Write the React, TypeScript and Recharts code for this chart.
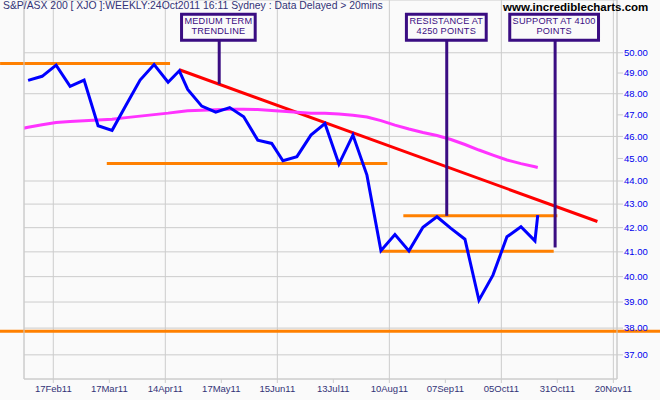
import React from "react";
import {
  LineChart,
  Line,
  XAxis,
  YAxis,
  CartesianGrid,
  ReferenceLine,
  ReferenceArea,
} from "recharts";

const FONT = '"Liberation Sans", Arial, sans-serif';
const PURPLE = "#3a0d82";
const ORANGE = "#ff8000";
const GRID = "#cccccc";

// weekly closes (index / 100)
const WEEKS = [
  "2011-02-04", "2011-02-11", "2011-02-18", "2011-02-25", "2011-03-04", "2011-03-11",
  "2011-03-18", "2011-03-25", "2011-04-01", "2011-04-08", "2011-04-15", "2011-04-21",
  "2011-04-29", "2011-05-06", "2011-05-13", "2011-05-20", "2011-05-27", "2011-06-03",
  "2011-06-10", "2011-06-17", "2011-06-24", "2011-07-01", "2011-07-08", "2011-07-15",
  "2011-07-22", "2011-07-29", "2011-08-05", "2011-08-12", "2011-08-19", "2011-08-26",
  "2011-09-02", "2011-09-09", "2011-09-16", "2011-09-23", "2011-09-30", "2011-10-07",
  "2011-10-14", "2011-10-21", "2011-10-24",
];
const XJO = [
  48.64, 48.84, 49.39, 48.35, 48.66, 46.49, 46.28, 47.46, 48.66, 49.42, 48.55, 49.11,
  48.21, 47.41, 47.13, 47.34, 46.91, 45.83, 45.68, 44.9, 45.08, 46.06, 46.59, 44.75,
  46.06, 44.26, 41.05, 41.71, 41.04, 42.02, 42.46, 41.97, 41.52, 39.07, 40.06, 41.62,
  42.04, 41.45, 42.53,
];
// moving average starts one week earlier
const MA_WEEKS = ["2011-01-28", ...WEEKS];
const MA = [
  46.29, 46.42, 46.54, 46.64, 46.69, 46.72, 46.76, 46.79, 46.87, 46.94, 47.01, 47.08,
  47.15, 47.19, 47.22, 47.24, 47.26, 47.26, 47.25, 47.2, 47.17, 47.12, 47.08, 47.07,
  47.04, 46.98, 46.9, 46.73, 46.52, 46.34, 46.18, 46.04, 45.86, 45.63, 45.38, 45.15,
  44.93, 44.77, 44.63, 44.6,
];

const TICK_DAYS = [0, 20, 40, 60, 80, 100, 120, 140, 160, 180, 200];
const TICK_LABELS = [
  "17Feb11", "17Mar11", "14Apr11", "17May11", "15Jun11", "13Jul11",
  "10Aug11", "07Sep11", "05Oct11", "31Oct11", "20Nov11",
];
const Y_TICKS = [37, 38, 39, 40, 41, 42, 43, 44, 45, 46, 47, 48, 49, 50];

// horizontal support / resistance levels and their spans (trading days)
const LEVELS = [49.47, 44.78, 42.5, 41.03, 37.88];
const LEVEL_SPANS = [
  [-19, 41.7],
  [19.1, 119.3],
  [125, 180],
  [117, 178.7],
  [-19.5, 216.7],
];
const TREND = [
  { d: 45, v: 49.16 },
  { d: 194.3, v: 42.26 },
];

const CALLOUTS = [
  { lines: ["MEDIUM TERM", "TRENDLINE"], d1: 45.8, d2: 72.1, at: 59.25, to: 48.46 },
  { lines: ["RESISTANCE AT", "4250 POINTS"], d1: 126.1, d2: 154.6, at: 140.5, to: 42.5 },
  { lines: ["SUPPORT AT 4100", "POINTS"], d1: 163.0, d2: 194.7, at: 179.2, to: 41.18 },
];
const BOX_TOP = 51.96;
const BOX_BOTTOM = 50.63;

const HOLIDAYS = ["2011-04-22", "2011-04-25", "2011-04-26", "2011-06-13"];

// trading days counted from 17 Feb 2011
function tradingDay(iso: string) {
  const base = Date.UTC(2011, 1, 17);
  const [y, m, d] = iso.split("-").map(Number);
  const target = Date.UTC(y, m - 1, d);
  const step = target >= base ? 1 : -1;
  let n = 0;
  let cur = base;
  while (cur !== target) {
    cur += step * 86400000;
    const dt = new Date(cur);
    const wd = dt.getUTCDay();
    if (wd === 0 || wd === 6) continue;
    if (HOLIDAYS.includes(dt.toISOString().slice(0, 10))) continue;
    n += step;
  }
  return n;
}

const priceData = WEEKS.map((w, i) => ({ d: tradingDay(w), v: XJO[i] }));
const maData = MA_WEEKS.map((w, i) => ({ d: tradingDay(w), v: MA[i] }));

function BoxLabel(props: any) {
  const { viewBox, lines } = props;
  const cx = viewBox.x + viewBox.width / 2;
  const cy = viewBox.y + viewBox.height / 2;
  return (
    <text
      x={cx}
      y={cy - 3.5}
      textAnchor="middle"
      fill={PURPLE}
      fontSize={9.2}
      fontFamily={FONT}
      letterSpacing={0.2}
    >
      <tspan x={cx}>{lines[0]}</tspan>
      <tspan x={cx} dy={10.8}>
        {lines[1]}
      </tspan>
    </text>
  );
}

export default function App() {
  return (
    <div
      style={{
        position: "absolute",
        left: 0,
        top: 0,
        width: 660,
        height: 400,
        background: "#fafafa",
        fontFamily: FONT,
      }}
    >
      <LineChart
        width={660}
        height={400}
        margin={{ top: 0, right: 0, left: 0, bottom: 0 }}
      >
        <CartesianGrid stroke={GRID} />
        <XAxis
          dataKey="d"
          type="number"
          domain={[-10.46, 201.3]}
          allowDataOverflow
          ticks={TICK_DAYS}
          tickFormatter={(v: number) => TICK_LABELS[TICK_DAYS.indexOf(v)] ?? ""}
          height={21}
          tickSize={4}
          tickMargin={2}
          stroke={GRID}
          tick={{ fill: "#333377", fontSize: 9.5, fontFamily: FONT }}
        />
        <YAxis
          yAxisId="frame"
          orientation="left"
          width={24}
          tick={false}
          tickLine={false}
          stroke={GRID}
        />
        <YAxis
          orientation="right"
          scale="log"
          domain={[36.12, 52.7]}
          allowDataOverflow
          ticks={Y_TICKS}
          tickFormatter={(v: number) => v.toFixed(2)}
          width={43}
          tickSize={6}
          tickMargin={1}
          stroke={GRID}
          tick={{ fill: "#0000ee", fontSize: 9.5, fontFamily: FONT }}
        />
        {LEVELS.map((lv, i) => (
          <ReferenceLine
            key={"lv" + i}
            segment={[
              { x: LEVEL_SPANS[i][0], y: lv },
              { x: LEVEL_SPANS[i][1], y: lv },
            ]}
            stroke={ORANGE}
            strokeWidth={3}
            ifOverflow="visible"
          />
        ))}
        <ReferenceLine
          segment={[
            { x: TREND[0].d, y: TREND[0].v },
            { x: TREND[1].d, y: TREND[1].v },
          ]}
          stroke="#ff0000"
          strokeWidth={3}
          ifOverflow="visible"
        />
        <Line
          data={maData}
          dataKey="v"
          stroke="#ff33ff"
          strokeWidth={3}
          dot={false}
          isAnimationActive={false}
        />
        <Line
          data={priceData}
          dataKey="v"
          stroke="#0000ff"
          strokeWidth={3}
          dot={false}
          isAnimationActive={false}
        />
        {CALLOUTS.map((c, i) => (
          <ReferenceLine
            key={"cl" + i}
            segment={[
              { x: c.at, y: BOX_BOTTOM },
              { x: c.at, y: c.to },
            ]}
            stroke={PURPLE}
            strokeWidth={3}
            ifOverflow="visible"
          />
        ))}
        {CALLOUTS.map((c, i) => (
          <ReferenceArea
            key={"bx" + i}
            x1={c.d1}
            x2={c.d2}
            y1={BOX_BOTTOM}
            y2={BOX_TOP}
            fill="#fafafa"
            fillOpacity={1}
            stroke={PURPLE}
            strokeWidth={3}
            ifOverflow="visible"
            label={<BoxLabel lines={c.lines} />}
          />
        ))}
      </LineChart>
      <div
        style={{
          position: "absolute",
          left: 3,
          top: 0,
          fontSize: 10.4,
          lineHeight: "12px",
          color: "#333377",
          whiteSpace: "nowrap",
        }}
      >
        S&amp;P/ASX 200 [ XJO ]:WEEKLY:24Oct2011 16:11 Sydney : Data Delayed &gt; 20mins
      </div>
      <div
        style={{
          position: "absolute",
          left: 503,
          top: 1,
          fontSize: 11.5,
          fontWeight: "bold",
          lineHeight: "13px",
          color: "#000",
          whiteSpace: "nowrap",
        }}
      >
        www.incrediblecharts.com
      </div>
    </div>
  );
}
